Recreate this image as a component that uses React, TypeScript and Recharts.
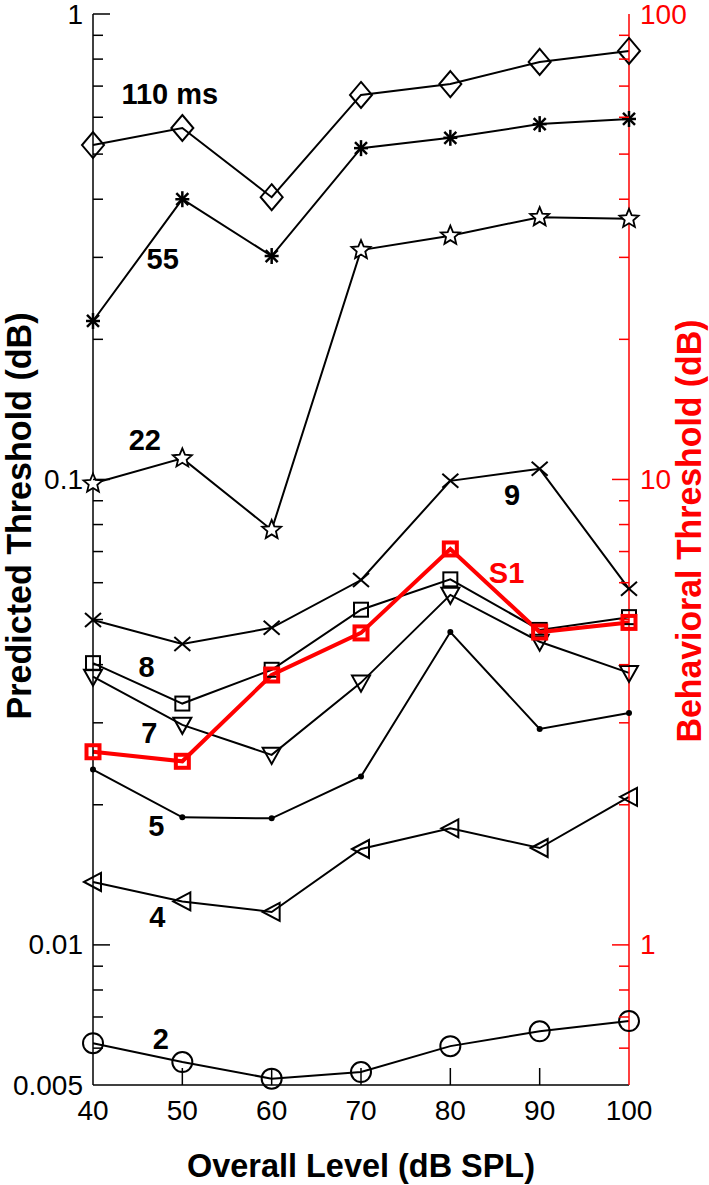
import { LineChart, Line, XAxis, YAxis, ReferenceDot } from 'recharts';

// overall level (dB SPL)
const levels = [40, 50, 60, 70, 80, 90, 100];

// predicted thresholds per window duration (left axis)
const ms110 = [0.523, 0.569, 0.404, 0.670, 0.707, 0.789, 0.833];
const ms55 = [0.219, 0.400, 0.302, 0.515, 0.542, 0.580, 0.595];
const ms22 = [0.098, 0.111, 0.0779, 0.311, 0.334, 0.366, 0.363];
const ms9 = [0.0499, 0.0443, 0.048, 0.0608, 0.0993, 0.1054, 0.0582];
const ms8 = [0.0403, 0.033, 0.039, 0.0525, 0.061, 0.0475, 0.0506];
const ms7 = [0.0377, 0.0297, 0.0256, 0.0366, 0.0565, 0.0448, 0.0384];
const ms5 = [0.0238, 0.0188, 0.0187, 0.023, 0.047, 0.0291, 0.0315];
const ms4 = [0.01365, 0.0124, 0.01177, 0.01607, 0.0178, 0.01615, 0.0208];
const ms2 = [0.00615, 0.0056, 0.00516, 0.00533, 0.00606, 0.00652, 0.00686];

// behavioral threshold S1 (right axis)
const s1 = [2.6, 2.48, 3.8, 4.68, 7.09, 4.7, 4.93];

const xTicks = [40, 50, 60, 70, 80, 90, 100];
const leftTicks = [0.005, 0.006, 0.007, 0.008, 0.009, 0.01, 0.02, 0.03, 0.04, 0.05, 0.06, 0.07, 0.08, 0.09, 0.1, 0.2, 0.3, 0.4, 0.5, 0.6, 0.7, 0.8, 0.9, 1];
const leftMajor = [0.01, 0.1, 1];
const leftLabelValues = [0.005, 0.01, 0.1, 1];
const leftLabelText = ['0.005', '0.01', '0.1', '1'];
const rightTicks = [0.6, 0.7, 0.8, 0.9, 1, 2, 3, 4, 5, 6, 7, 8, 9, 10, 20, 30, 40, 50, 60, 70, 80, 90, 100];
const rightMajor = [1, 10, 100];

// curve labels, placed in data coordinates
const noteText = ['110 ms', '55', '22', '9', '8', '7', '5', '4', '2'];
const noteX = [48.6, 47.8, 45.8, 86.9, 46.0, 46.3, 47.1, 47.2, 47.6];
const noteY = [0.673, 0.2976, 0.1215, 0.0926, 0.0395, 0.0285, 0.018, 0.01147, 0.00627];

const FONT = '"Liberation Sans", Arial, Helvetica, sans-serif';
const RED = '#ff0000';

const data = levels.map((lv, i) => ({
  level: lv,
  m110: ms110[i],
  m55: ms55[i],
  m22: ms22[i],
  m9: ms9[i],
  m8: ms8[i],
  m7: ms7[i],
  m5: ms5[i],
  m4: ms4[i],
  m2: ms2[i],
  s1: s1[i],
}));

function starPoints(cx: number, cy: number, ro: number, ri: number) {
  const pts: string[] = [];
  for (let k = 0; k < 10; k++) {
    const r = k % 2 === 0 ? ro : ri;
    const a = -Math.PI / 2 + (k * Math.PI) / 5;
    pts.push(`${cx + r * Math.cos(a)},${cy + r * Math.sin(a)}`);
  }
  return pts.join(' ');
}

function makeDot(kind: string) {
  return (p: any) => {
    const { cx, cy, index } = p;
    const key = `${kind}-${index}`;
    const s = { fill: 'none', stroke: '#000', strokeWidth: 2 };
    if (cx == null || cy == null) return <g key={key} />;
    switch (kind) {
      case 'diamond':
        return <polygon key={key} points={`${cx},${cy - 13} ${cx + 11},${cy} ${cx},${cy + 13} ${cx - 11},${cy}`} {...s} />;
      case 'asterisk':
        return (
          <g key={key} stroke="#000" strokeWidth={2.5}>
            <line x1={cx} y1={cy - 8} x2={cx} y2={cy + 8} />
            <line x1={cx - 7} y1={cy} x2={cx + 7} y2={cy} />
            <line x1={cx - 6} y1={cy - 6} x2={cx + 6} y2={cy + 6} />
            <line x1={cx - 6} y1={cy + 6} x2={cx + 6} y2={cy - 6} />
          </g>
        );
      case 'star':
        return <polygon key={key} points={starPoints(cx, cy, 10, 4.5)} {...s} strokeWidth={1.8} fill="#fff" />;
      case 'cross':
        return (
          <g key={key} stroke="#000" strokeWidth={2}>
            <line x1={cx - 8} y1={cy - 7} x2={cx + 8} y2={cy + 7} />
            <line x1={cx - 8} y1={cy + 7} x2={cx + 8} y2={cy - 7} />
          </g>
        );
      case 'square':
        return <rect key={key} x={cx - 7} y={cy - 7} width={14} height={14} {...s} />;
      case 'down':
        return <polygon key={key} points={`${cx - 9},${cy - 7} ${cx + 9},${cy - 7} ${cx},${cy + 9}`} {...s} />;
      case 'left':
        return <polygon key={key} points={`${cx - 9},${cy} ${cx + 8},${cy - 9} ${cx + 8},${cy + 9}`} {...s} />;
      case 'dot':
        return <circle key={key} cx={cx} cy={cy} r={3} fill="#000" />;
      case 'circle':
        return <circle key={key} cx={cx} cy={cy} r={10} {...s} />;
      case 'red':
        return <rect key={key} x={cx - 6.5} y={cy - 6.5} width={13} height={13} fill="none" stroke={RED} strokeWidth={4} />;
      default:
        return <g key={key} />;
    }
  };
}

const BottomTick = (p: any) => {
  const v = p.payload.value;
  return (
    <g>
      {v !== 40 && v !== 100 && <line x1={p.x} x2={p.x} y1={p.y} y2={p.y - 17} stroke="#000" strokeWidth={1.5} />}
      <text x={p.x} y={p.y + 35} textAnchor="middle" fontFamily={FONT} fontSize={28} fill="#000">
        {v}
      </text>
    </g>
  );
};

const TopTick = (p: any) => {
  const v = p.payload.value;
  if (v === 40 || v === 100) return <g />;
  return <line x1={p.x} x2={p.x} y1={p.y} y2={p.y + 18} stroke="#000" strokeWidth={1.5} />;
};

const LeftTick = (p: any) => {
  const v = p.payload.value;
  const major = leftMajor.includes(v);
  const li = leftLabelValues.indexOf(v);
  return (
    <g>
      {v !== 0.005 && <line x1={p.x} x2={p.x + (major ? 17 : 10)} y1={p.y} y2={p.y} stroke="#000" strokeWidth={1.5} />}
      {li >= 0 && (
        <text x={p.x - 10} y={p.y} dy={9.5} textAnchor="end" fontFamily={FONT} fontSize={28} fill="#000">
          {leftLabelText[li]}
        </text>
      )}
    </g>
  );
};

const RightTick = (p: any) => {
  const v = p.payload.value;
  const major = rightMajor.includes(v);
  return (
    <g>
      {v !== 100 && <line x1={p.x} x2={p.x - (major ? 17 : 10)} y1={p.y} y2={p.y} stroke={RED} strokeWidth={1.5} />}
      {major && (
        <text x={p.x + 11} y={p.y} dy={9.5} textAnchor="start" fontFamily={FONT} fontSize={28} fill={RED}>
          {v}
        </text>
      )}
    </g>
  );
};

const blackSeries = [
  { key: 'm110', dot: 'diamond' },
  { key: 'm55', dot: 'asterisk' },
  { key: 'm22', dot: 'star' },
  { key: 'm9', dot: 'cross' },
  { key: 'm8', dot: 'square' },
  { key: 'm7', dot: 'down' },
  { key: 'm5', dot: 'dot' },
  { key: 'm4', dot: 'left' },
  { key: 'm2', dot: 'circle' },
];

export default function App() {
  return (
    <div style={{ position: 'absolute', left: 0, top: 0, width: 709, height: 1185, background: '#fff' }}>
      <LineChart width={709} height={1185} data={data} margin={{ top: 14, right: 0, bottom: 0, left: 0 }}>
        <XAxis
          xAxisId="b"
          dataKey="level"
          type="number"
          domain={[40, 100]}
          ticks={xTicks}
          interval={0}
          height={100}
          tickSize={0}
          tickMargin={0}
          tickLine={false}
          tick={<BottomTick />}
          axisLine={{ stroke: '#000', strokeWidth: 1.5 }}
        />
        <XAxis
          xAxisId="t"
          orientation="top"
          type="number"
          domain={[40, 100]}
          ticks={xTicks}
          interval={0}
          height={0}
          tickSize={0}
          tickMargin={0}
          tickLine={false}
          tick={<TopTick />}
          axisLine={{ stroke: '#000', strokeWidth: 1.5 }}
        />
        <YAxis
          yAxisId="l"
          type="number"
          scale="log"
          domain={[0.005, 1]}
          ticks={leftTicks}
          interval={0}
          width={93}
          tickSize={0}
          tickMargin={0}
          tickLine={false}
          tick={<LeftTick />}
          axisLine={{ stroke: '#000', strokeWidth: 1.5 }}
        />
        <YAxis
          yAxisId="r"
          orientation="right"
          type="number"
          scale="log"
          domain={[0.5, 100]}
          ticks={rightTicks}
          interval={0}
          width={80}
          tickSize={0}
          tickMargin={0}
          tickLine={false}
          tick={<RightTick />}
          axisLine={{ stroke: RED, strokeWidth: 1.5 }}
        />
        {blackSeries.map((s) => (
          <Line
            key={s.key}
            xAxisId="b"
            yAxisId="l"
            dataKey={s.key}
            type="linear"
            stroke="#000"
            strokeWidth={2}
            dot={makeDot(s.dot)}
            activeDot={false}
            isAnimationActive={false}
          />
        ))}
        <Line
          xAxisId="b"
          yAxisId="r"
          dataKey="s1"
          type="linear"
          stroke={RED}
          strokeWidth={4}
          dot={makeDot('red')}
          activeDot={false}
          isAnimationActive={false}
        />
        {noteText.map((t, i) => (
          <ReferenceDot
            key={t}
            xAxisId="b"
            yAxisId="l"
            x={noteX[i]}
            y={noteY[i]}
            r={0}
            ifOverflow="visible"
            shape={(p: any) => (
              <text x={p.cx} y={p.cy} dy={10} textAnchor="middle" fontFamily={FONT} fontWeight="bold" fontSize={29} fill="#000">
                {t}
              </text>
            )}
          />
        ))}
        <ReferenceDot
          xAxisId="b"
          yAxisId="r"
          x={86.3}
          y={6.29}
          r={0}
          ifOverflow="visible"
          shape={(p: any) => (
            <text x={p.cx} y={p.cy} dy={10} textAnchor="middle" fontFamily={FONT} fontWeight="bold" fontSize={29} fill={RED}>
              S1
            </text>
          )}
        />
        <text
          x={361}
          y={1177}
          textAnchor="middle"
          fontFamily={FONT}
          fontWeight="bold"
          fontSize={34}
          textLength={348}
          lengthAdjust="spacingAndGlyphs"
          fill="#000"
        >
          Overall Level (dB SPL)
        </text>
        <text
          transform="translate(31 516) rotate(-90)"
          textAnchor="middle"
          fontFamily={FONT}
          fontWeight="bold"
          fontSize={35}
          textLength={407}
          lengthAdjust="spacingAndGlyphs"
          fill="#000"
        >
          Predicted Threshold (dB)
        </text>
        <text
          transform="translate(701 531) rotate(-90)"
          textAnchor="middle"
          fontFamily={FONT}
          fontWeight="bold"
          fontSize={35}
          textLength={423}
          lengthAdjust="spacingAndGlyphs"
          fill={RED}
        >
          Behavioral Threshold (dB)
        </text>
      </LineChart>
    </div>
  );
}
